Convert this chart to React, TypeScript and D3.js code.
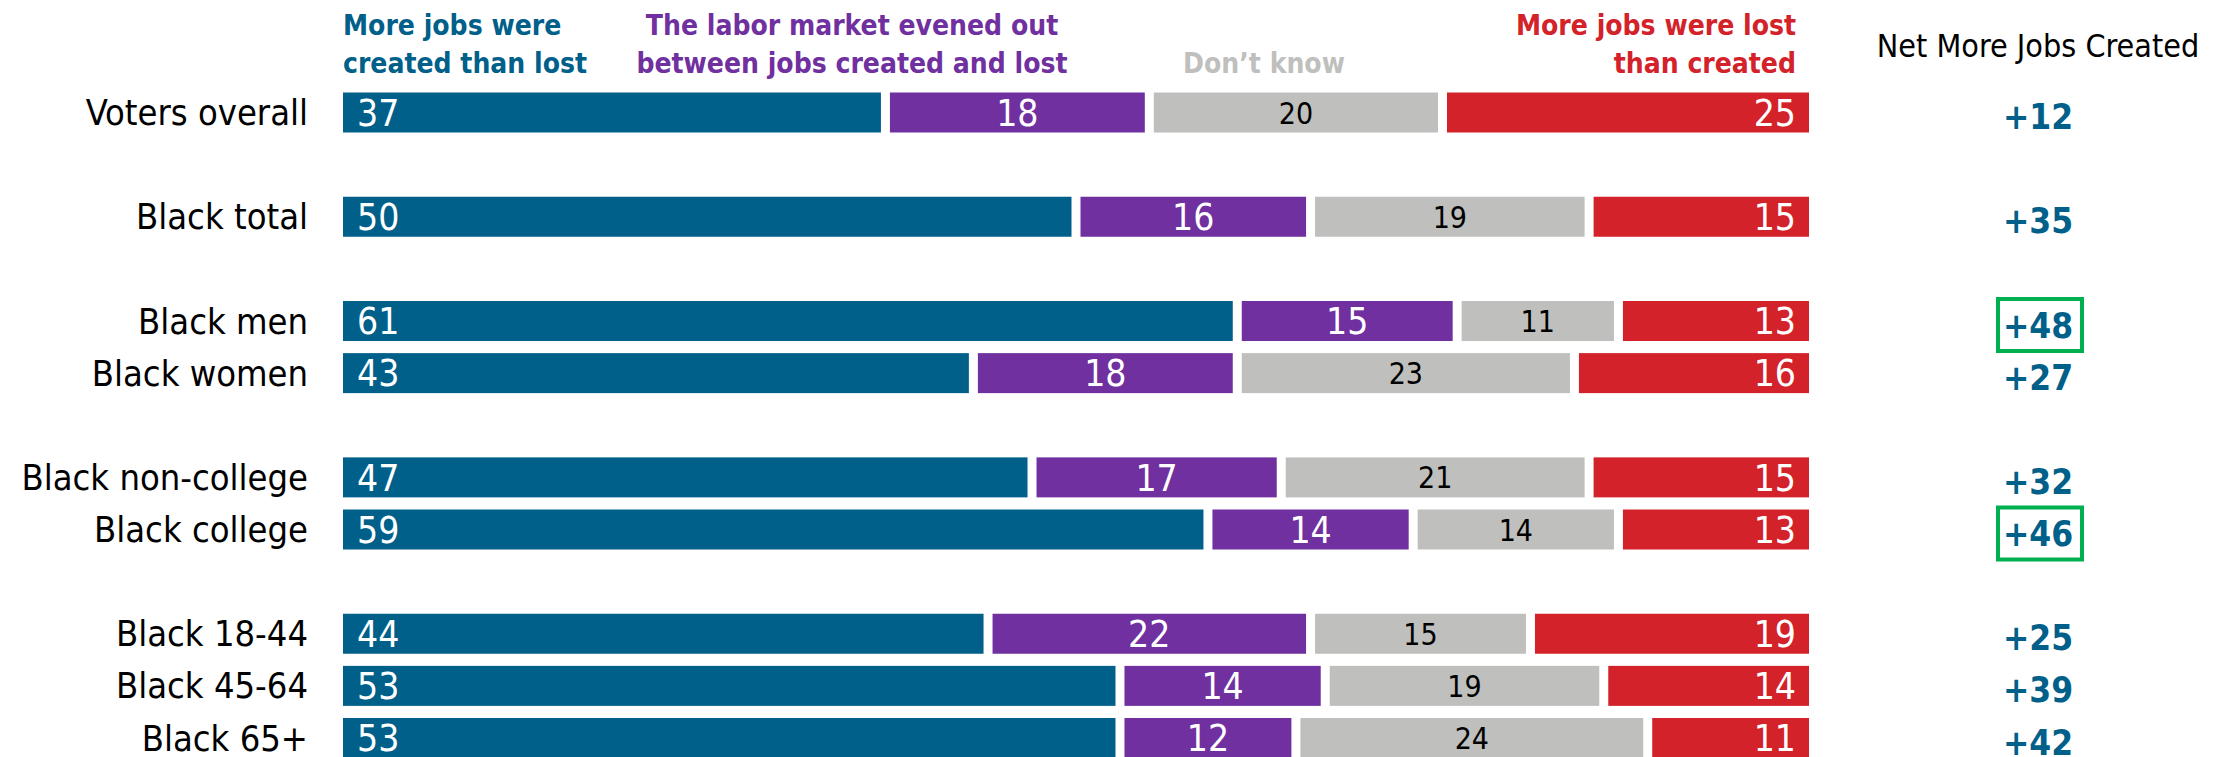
import React from 'react';
import * as d3 from 'd3';

// survey rows
const categories = [
  'Voters overall',
  'Black total',
  'Black men',
  'Black women',
  'Black non-college',
  'Black college',
  'Black 18-44',
  'Black 45-64',
  'Black 65+',
];
const groupOf = ['All', 'Total', 'Gender', 'Gender', 'Education', 'Education', 'Age', 'Age', 'Age'];

const created = [37, 50, 61, 43, 47, 59, 44, 53, 53];
const evened = [18, 16, 15, 18, 17, 14, 22, 14, 12];
const dontKnow = [20, 19, 11, 23, 21, 14, 15, 19, 24];
const lost = [25, 15, 13, 16, 15, 13, 19, 14, 11];

const highlighted = ['Black men', 'Black college'];

const seriesNames = [
  ['More jobs were', 'created than lost'],
  ['The labor market evened out', 'between jobs created and lost'],
  ["Don\u2019t know"],
  ['More jobs were lost', 'than created'],
];
const netTitle = 'Net More Jobs Created';

const COLORS = ['#00608A', '#7030A0', '#BFBFBD', '#D32229'];
const LABEL_COLORS = ['#fff', '#fff', '#000', '#fff'];
const GREEN = '#00B050';
const FONT = "'DejaVu Sans Condensed', 'DejaVu Sans', sans-serif";

export default function App() {
  const width = 2233;
  const height = 757;
  const BAR_H = 40;
  const GAP = 4.5;

  const xScale = d3.scaleLinear().domain([0, 100]).range([343, 1809]);

  // slot = row index + group index (a blank slot between groups)
  const groupIds = Array.from(new Set(groupOf));
  const slots = categories.map((_, i) => i + groupIds.indexOf(groupOf[i]));
  const yScale = d3
    .scaleLinear()
    .domain([0, d3.max(slots) ?? 12])
    .range([92.5, 718]);

  const series = [created, evened, dontKnow, lost];
  const netX = 2038;

  const rows = categories.map((cat, i) => {
    const y = yScale(slots[i]);
    const cy = y + BAR_H / 2;
    let cum = 0;
    const segs = series.map((s, k) => {
      const v = s[i];
      const start = cum;
      const end = cum + v;
      cum = end;
      const x0 = xScale(start) + (start > 0 ? GAP : 0);
      const x1 = xScale(end) - (end < 100 ? GAP : 0);
      let tx = (x0 + x1) / 2;
      let anchor: 'start' | 'middle' | 'end' = 'middle';
      if (k === 0) {
        tx = x0 + 14;
        anchor = 'start';
      } else if (k === 3) {
        tx = x1 - 13;
        anchor = 'end';
      }
      return (
        <g key={k}>
          <rect x={x0} y={y} width={x1 - x0} height={BAR_H} fill={COLORS[k]} />
          <text
            x={tx}
            y={cy}
            dy={k === 2 ? '0.37em' : '0.36em'}
            textAnchor={anchor}
            fontSize={k === 2 ? 30 : 37}
            fill={LABEL_COLORS[k]}
          >
            {v}
          </text>
        </g>
      );
    });
    const net = created[i] - lost[i];
    const isHi = highlighted.includes(cat);
    return (
      <g key={cat}>
        <text x={308} y={cy} dy="0.35em" textAnchor="end" fontSize={36} fill="#000">
          {cat}
        </text>
        {segs}
        {isHi && (
          <rect
            x={1998}
            y={y - 2}
            width={84}
            height={52}
            fill="none"
            stroke={GREEN}
            strokeWidth={4}
          />
        )}
        <text
          x={netX}
          y={cy + 4}
          dy="0.36em"
          textAnchor="middle"
          fontSize={35}
          fontWeight="bold"
          fill={COLORS[0]}
        >
          {(net > 0 ? '+' : '') + net}
        </text>
      </g>
    );
  });

  // legend headers above the bars
  const headerPos = [
    { x: xScale(0), anchor: 'start' },
    { x: 852, anchor: 'middle' },
    { x: 1264, anchor: 'middle' },
    { x: 1796, anchor: 'end' },
  ];

  const headers = seriesNames.map((lines, k) => (
    <text
      key={k}
      textAnchor={headerPos[k].anchor as any}
      fontSize={28}
      fontWeight="bold"
      fill={k === 2 ? '#BFBFBD' : COLORS[k]}
    >
      {lines.map((l, j) => (
        <tspan key={j} x={headerPos[k].x} y={lines.length === 1 ? 73 : 35 + j * 38}>
          {l}
        </tspan>
      ))}
    </text>
  ));

  return (
    <svg
      width={width}
      height={height}
      style={{ position: 'absolute', left: 0, top: 0, background: '#fff' }}
      fontFamily={FONT}
    >
      {headers}
      <text x={2038} y={57} textAnchor="middle" fontSize={32} fill="#000">
        {netTitle}
      </text>
      {rows}
    </svg>
  );
}
